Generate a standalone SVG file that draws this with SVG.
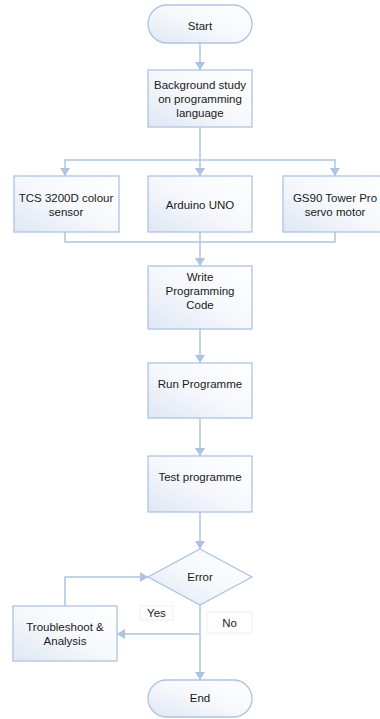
<svg xmlns="http://www.w3.org/2000/svg" width="380" height="719" viewBox="0 0 380 719">
<style>
.n{stroke:#aec3e2;stroke-width:1.3;fill:url(#g)}
.c{stroke:#aec3e2;stroke-width:1.5;fill:none}
.a{marker-end:url(#ar)}
.t{font-family:"Liberation Sans",Arial,sans-serif;font-size:11.5px;fill:#1a1a1a;text-anchor:middle}
.lb{fill:#fff;stroke:#f0f0f0;stroke-width:1}
</style>
<defs>
<linearGradient id="g" x1="1" y1="0" x2="0" y2="1">
<stop offset="0" stop-color="#ffffff"/>
<stop offset="0.5" stop-color="#f6f8fc"/>
<stop offset="1" stop-color="#dfe7f4"/>
</linearGradient>
<marker id="ar" viewBox="0 0 8 10" refX="8" refY="5" markerWidth="8" markerHeight="10" markerUnits="userSpaceOnUse" orient="auto">
<path d="M0,0 L8,5 L0,10 z" fill="#aec3e2"/>
</marker>
</defs>
<g id="connectors">
<path class="c a" d="M200,43 V70"/>
<path class="c a" d="M200,127 V176"/>
<path class="c a" d="M200,160 H65 V176"/>
<path class="c a" d="M200,160 H335 V176"/>
<path class="c" d="M65,232 V242 H335 V232"/>
<path class="c a" d="M200,232 V266"/>
<path class="c a" d="M200,329 V363"/>
<path class="c a" d="M200,418 V456"/>
<path class="c a" d="M200,512 V549"/>
<path class="c a" d="M200,605 V680"/>
<path class="c a" d="M200,634 H117"/>
<path class="c a" d="M65,606 V577 H148"/>
</g>
<g id="start">
<rect class="n" x="148" y="5" width="104" height="38" rx="19" ry="19"/>
<text class="t" x="200" y="30">Start</text>
</g>
<g id="background">
<rect class="n" x="148" y="70" width="104" height="57"/>
<text class="t" x="200" y="89">Background study</text>
<text class="t" x="200" y="103">on programming</text>
<text class="t" x="200" y="117">language</text>
</g>
<g id="sensor">
<rect class="n" x="14" y="176" width="105" height="56"/>
<text class="t" x="66" y="202">TCS 3200D colour</text>
<text class="t" x="66" y="216">sensor</text>
</g>
<g id="arduino">
<rect class="n" x="148" y="176" width="104" height="56"/>
<text class="t" x="200" y="209">Arduino UNO</text>
</g>
<g id="servo">
<rect class="n" x="283" y="176" width="104" height="56"/>
<text class="t" x="335" y="202">GS90 Tower Pro</text>
<text class="t" x="335" y="216">servo motor</text>
</g>
<g id="write">
<rect class="n" x="148" y="266" width="104" height="63"/>
<text class="t" x="200" y="281">Write</text>
<text class="t" x="200" y="295">Programming</text>
<text class="t" x="200" y="309">Code</text>
</g>
<g id="run">
<rect class="n" x="148" y="363" width="104" height="55"/>
<text class="t" x="200" y="388">Run Programme</text>
</g>
<g id="test">
<rect class="n" x="148" y="456" width="104" height="56"/>
<text class="t" x="200" y="481">Test programme</text>
</g>
<g id="error">
<polygon class="n" points="200,549 252,577 200,605 148,577"/>
<text class="t" x="200" y="581">Error</text>
</g>
<g id="troubleshoot">
<rect class="n" x="13" y="606" width="104" height="55"/>
<text class="t" x="65" y="631">Troubleshoot &amp;</text>
<text class="t" x="65" y="645">Analysis</text>
</g>
<g id="end">
<rect class="n" x="148" y="680" width="104" height="37" rx="18.5" ry="18.5"/>
<text class="t" x="200" y="702">End</text>
</g>
<g id="label-yes">
<rect class="lb" x="140" y="606" width="33" height="14"/>
<text class="t" x="156.5" y="617">Yes</text>
</g>
<g id="label-no">
<rect class="lb" x="207" y="612" width="45" height="21"/>
<text class="t" x="229.5" y="627">No</text>
</g>
</svg>
